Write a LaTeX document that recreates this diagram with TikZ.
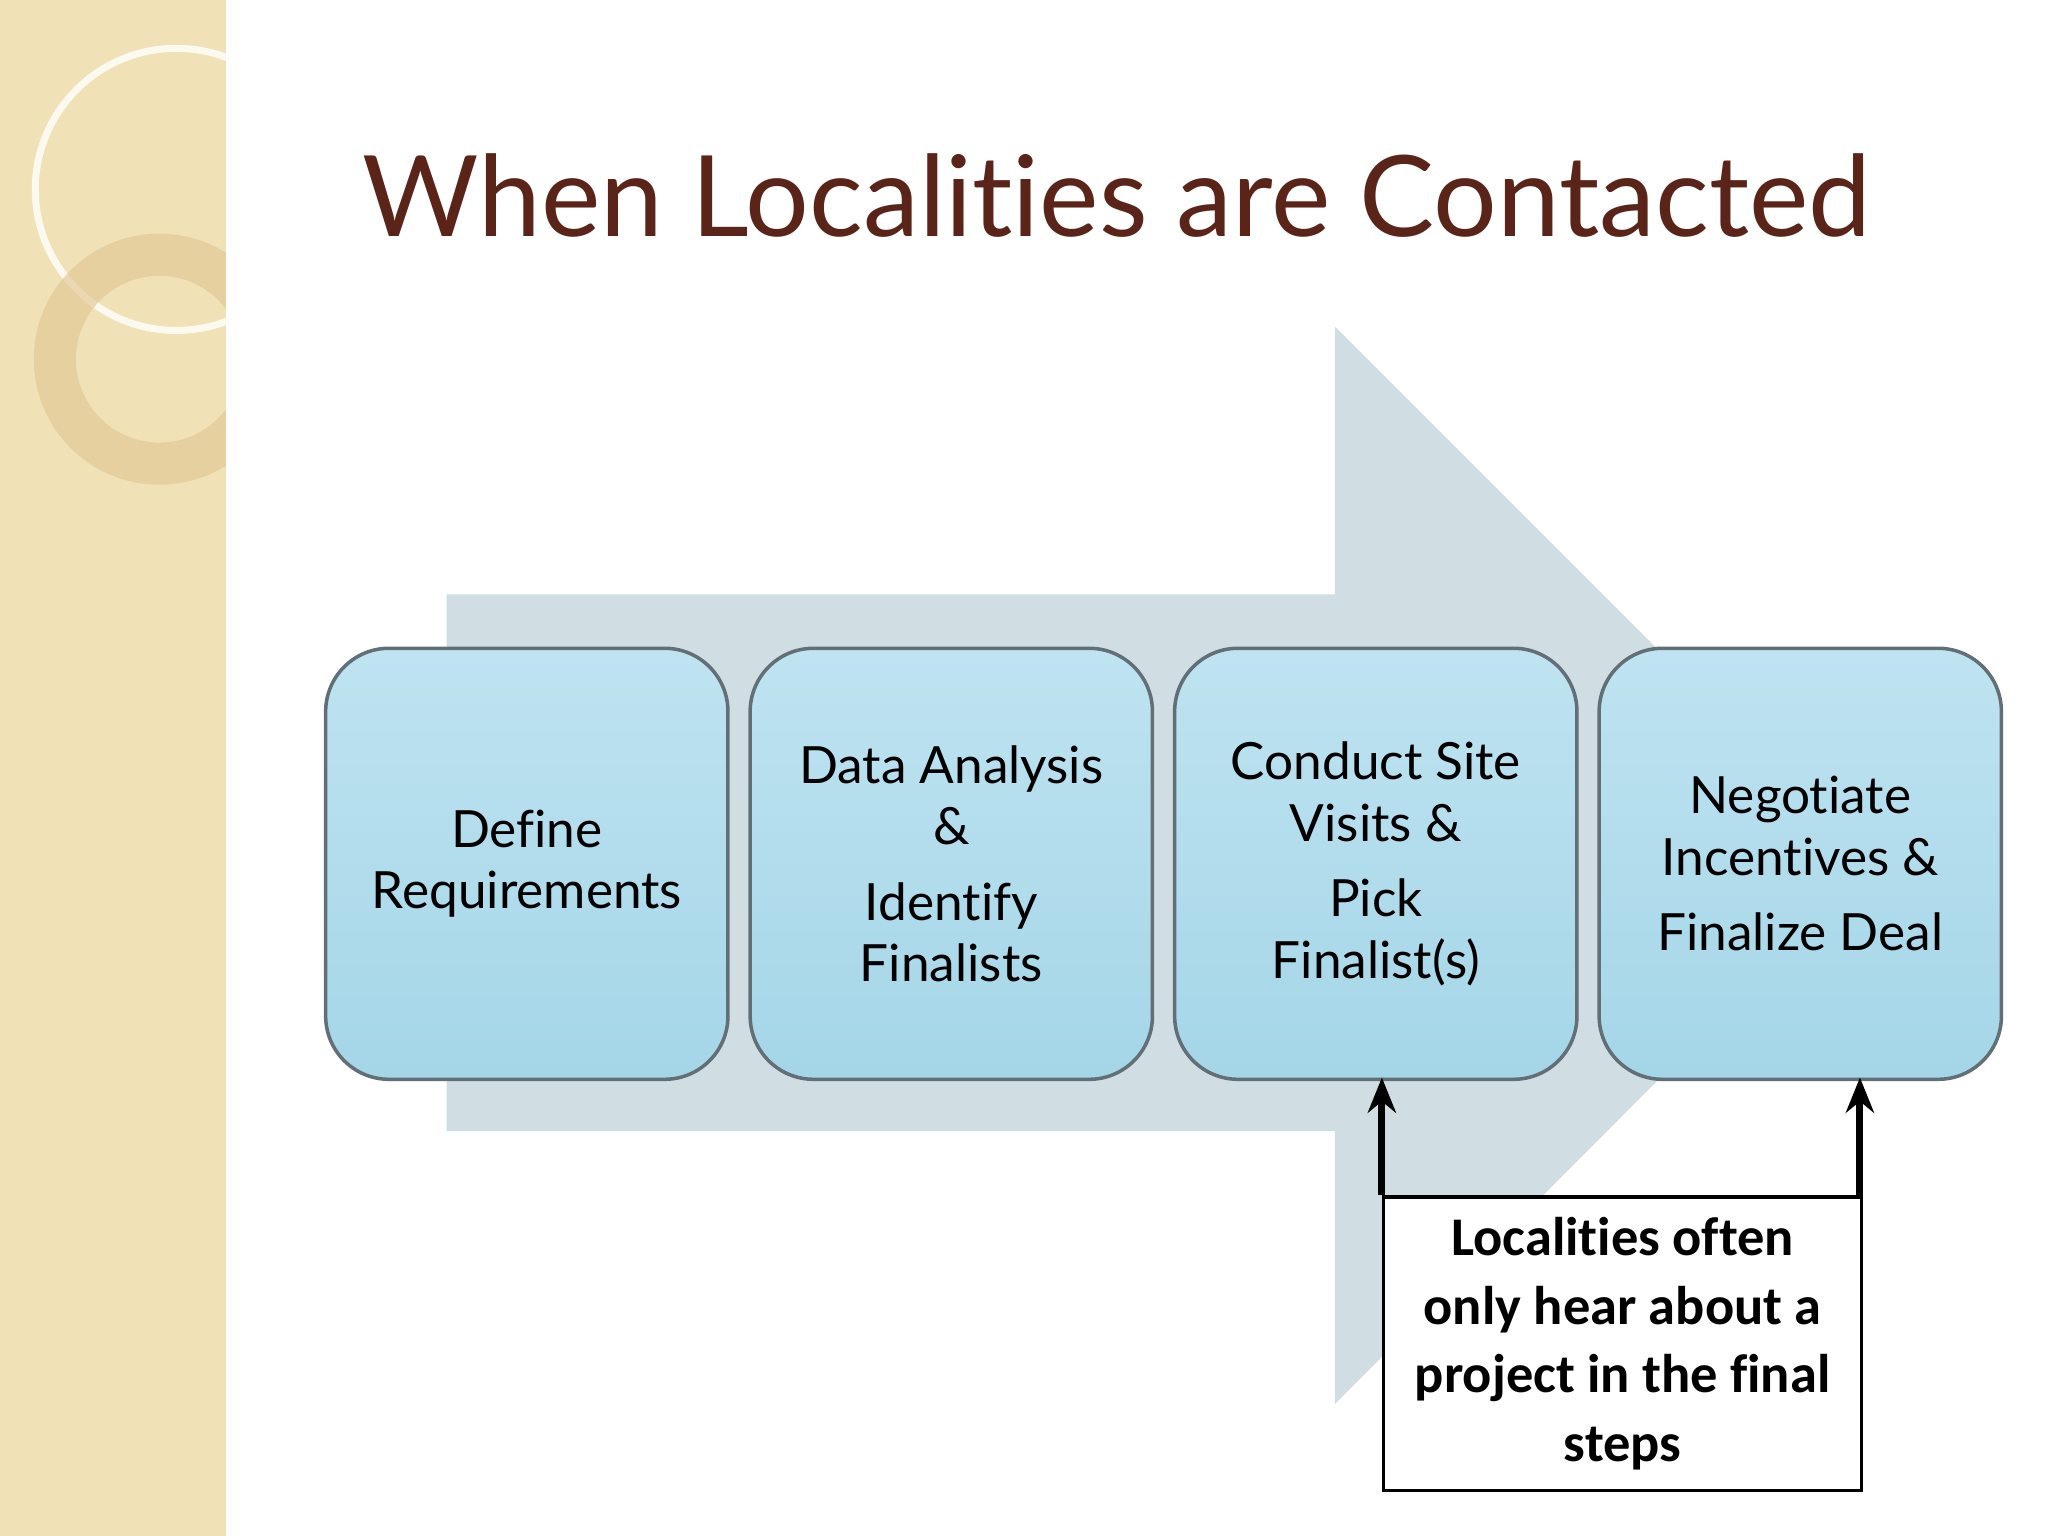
\documentclass[tikz,border=0pt]{standalone}
\usepackage{fontspec}
\setmainfont{Lato}[Ligatures=NoCommon]
\newfontfamily\calib{Carlito}[Ligatures=NoCommon]
\usetikzlibrary{arrows.meta}
\begin{document}
\begin{tikzpicture}[x=0.01306cm,y=-0.01306cm,
  stepbox/.style={draw=gray!70!cyan!60!black, line width=1pt, rounded corners=18pt,
    top color=boxtop, bottom color=boxbot, minimum width=308*0.01306cm, minimum height=330*0.01306cm,
    align=center, font=\fontsize{14.6}{17.5}\selectfont, anchor=north west},
  up/.style={-{Stealth[length=10pt,width=8pt]}, line width=2pt}]
\definecolor{boxtop}{HTML}{BFE3F1}
\definecolor{boxbot}{HTML}{A4D6E8}
\definecolor{arrowc}{HTML}{D0DEE3}
\definecolor{beige}{HTML}{F1E1B6}
\definecolor{titlec}{HTML}{5A2418}
\useasboundingbox (0,0) rectangle (1568,1176);
\fill[white] (0,0) rectangle (1568,1176);
\fill[beige] (0,0) rectangle (173,1176);
\begin{scope}
\clip (0,0) rectangle (173,1176);
\draw[white!80!beige, line width=2pt] (135,145) circle (108);
\draw[brown!25!beige, line width=12pt, opacity=0.7] (122,275) circle (80);
\end{scope}
\node[text=titlec, font=\fontsize{32}{36}\selectfont] (title) at (855,150) {When Localities are Contacted};
\fill[arrowc] (342,455) -- (1022,455) -- (1022,250) -- (1434,662) -- (1022,1075) -- (1022,866) -- (342,866) -- cycle;
\node[stepbox] (b1) at (248,495) {Define\\Requirements};
\node[stepbox] (b2) at (573,495) {Data Analysis\\\&\\[4pt]Identify\\Finalists};
\node[stepbox] (b3) at (898,495) {Conduct Site\\Visits \&\\[4pt]Pick\\Finalist(s)};
\node[stepbox] (b4) at (1223,495) {Negotiate\\Incentives \&\\[4pt]Finalize Deal};
\node[draw=black, fill=white, line width=1pt, minimum width=366*0.01306cm, minimum height=225*0.01306cm,
  anchor=north west, align=center, font=\calib\bfseries\fontsize{15.5}{19.5}\selectfont] (note) at (1058,915)
  {Localities often\\only hear about a\\project in the final\\steps};
\coordinate (c3) at (1058,915);
\coordinate (c4) at (1424,915);
\coordinate (t3) at (1058,825);
\coordinate (t4) at (1424,825);
\draw[up] (c3) -- (t3);
\draw[up] (c4) -- (t4);
\end{tikzpicture}
\end{document}
